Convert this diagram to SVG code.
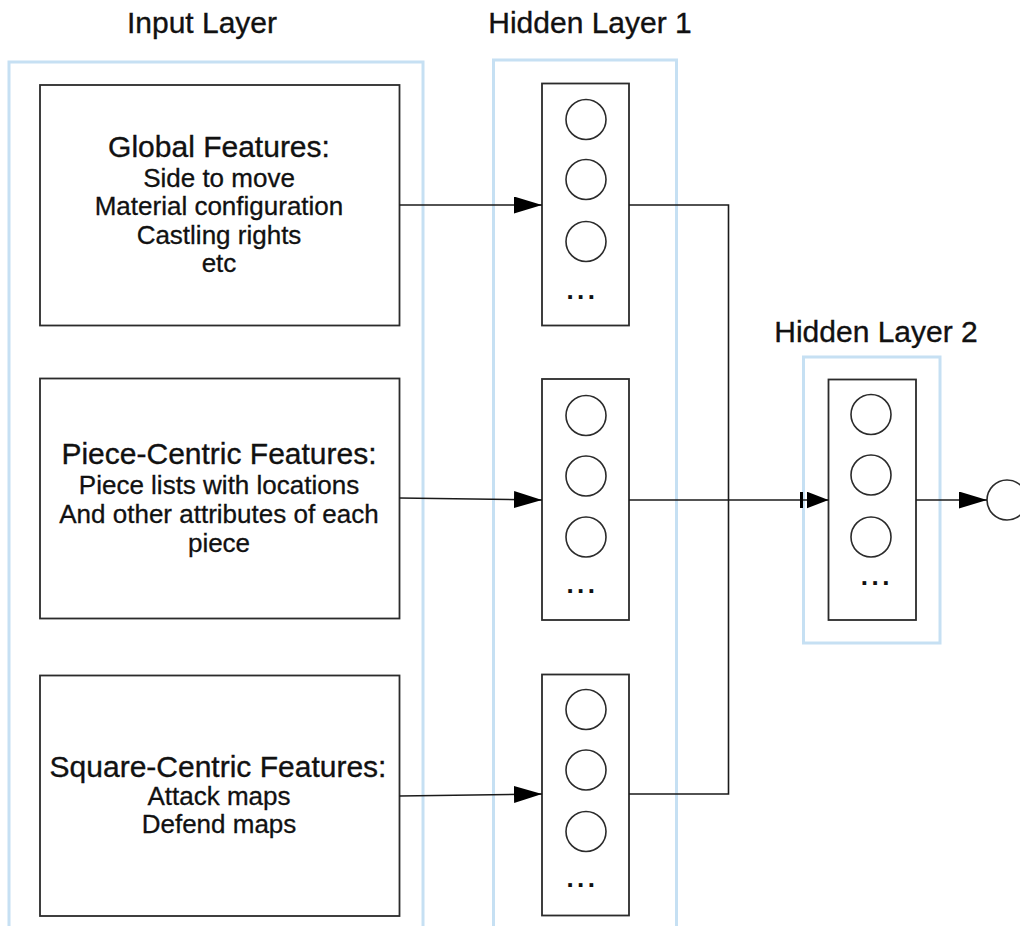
<svg xmlns="http://www.w3.org/2000/svg" width="1020" height="926" viewBox="0 0 1020 926">
<style>
.layer{fill:none;stroke:#c6e0f3;stroke-width:3}
.box{fill:#fff;stroke:#2b2b2b;stroke-width:1.8}
.neuron{fill:#fff;stroke:#2b2b2b;stroke-width:1.6}
.head{font-family:"Liberation Sans",Arial,sans-serif;font-size:30px;fill:#111;stroke:#111;stroke-width:0.35;text-anchor:middle}
.title{font-family:"Liberation Sans",Arial,sans-serif;font-size:30px;fill:#111;stroke:#111;stroke-width:0.35;text-anchor:middle}
.sub{font-family:"Liberation Sans",Arial,sans-serif;font-size:26px;fill:#111;stroke:#111;stroke-width:0.3;text-anchor:middle}
.dots{font-family:"Liberation Sans",Arial,sans-serif;font-size:26px;font-weight:bold;fill:#111;letter-spacing:3.5px}
.conn{fill:none;stroke:#1a1a1a;stroke-width:1.6}
</style>
<defs>
<marker id="arr" markerUnits="userSpaceOnUse" markerWidth="30" markerHeight="20" refX="28" refY="8.5" orient="auto">
<path d="M0,0 L28,8.5 L0,17 z" fill="#000"/>
</marker>
<marker id="arrS" markerUnits="userSpaceOnUse" markerWidth="24" markerHeight="20" refX="22" refY="8.5" orient="auto">
<path d="M0,0 L22,8.5 L0,17 z" fill="#000"/>
</marker>
</defs>
<rect width="1020" height="926" fill="#fff"/>

<g id="input-layer">
<rect class="layer" x="9" y="62" width="414" height="900"/>
<text class="head" x="202" y="33">Input Layer</text>
</g>
<g id="hidden-layer-1">
<rect class="layer" x="493.5" y="60" width="183" height="900"/>
<text class="head" x="590" y="33">Hidden Layer 1</text>
</g>
<g id="hidden-layer-2">
<rect class="layer" x="803.5" y="357" width="136.5" height="286"/>
<text class="head" x="876" y="342">Hidden Layer 2</text>
</g>

<g id="global-features">
<rect class="box" x="40" y="85" width="359.5" height="240.5"/>
<text class="title" x="219" y="157">Global Features:</text>
<text class="sub" x="219" y="187">Side to move</text>
<text class="sub" x="219" y="215">Material configuration</text>
<text class="sub" x="219" y="243.5">Castling rights</text>
<text class="sub" x="219" y="272">etc</text>
</g>
<g id="piece-centric-features">
<rect class="box" x="40" y="378.5" width="359.5" height="240"/>
<text class="title" x="219" y="464">Piece-Centric Features:</text>
<text class="sub" x="219" y="494">Piece lists with locations</text>
<text class="sub" x="219" y="522.5">And other attributes of each</text>
<text class="sub" x="219" y="551.5">piece</text>
</g>
<g id="square-centric-features">
<rect class="box" x="40" y="675.5" width="359.5" height="240.5"/>
<text class="title" x="218" y="777">Square-Centric Features:</text>
<text class="sub" x="219" y="805">Attack maps</text>
<text class="sub" x="219" y="833">Defend maps</text>
</g>

<g id="h1-block-1">
<rect class="box" x="542" y="83.5" width="87" height="242"/>
<circle class="neuron" cx="586" cy="119.5" r="20"/>
<circle class="neuron" cx="586" cy="179.5" r="20"/>
<circle class="neuron" cx="586" cy="241.5" r="20"/>
<text class="dots" x="566.4" y="299">...</text>
</g>
<g id="h1-block-2">
<rect class="box" x="542" y="379" width="87" height="241"/>
<circle class="neuron" cx="586" cy="415.5" r="20"/>
<circle class="neuron" cx="586" cy="476" r="20"/>
<circle class="neuron" cx="586" cy="537" r="20"/>
<text class="dots" x="566.4" y="593">...</text>
</g>
<g id="h1-block-3">
<rect class="box" x="542" y="674.5" width="87" height="241"/>
<circle class="neuron" cx="586" cy="709.5" r="20"/>
<circle class="neuron" cx="586" cy="770" r="20"/>
<circle class="neuron" cx="586" cy="831.5" r="20"/>
<text class="dots" x="566.4" y="887">...</text>
</g>
<g id="h2-block">
<rect class="box" x="828.5" y="379.5" width="87.5" height="240.5"/>
<circle class="neuron" cx="871" cy="414.5" r="20"/>
<circle class="neuron" cx="871" cy="475" r="20"/>
<circle class="neuron" cx="871" cy="537" r="20"/>
<text class="dots" x="860.7" y="585">...</text>
</g>
<g id="output-node">
<circle class="neuron" cx="1007" cy="500" r="20"/>
</g>

<g id="connectors">
<line class="conn" x1="399.5" y1="205" x2="542" y2="205" marker-end="url(#arr)"/>
<line class="conn" x1="399.5" y1="498" x2="542" y2="500" marker-end="url(#arr)"/>
<line class="conn" x1="399.5" y1="796" x2="542" y2="794" marker-end="url(#arr)"/>
<path class="conn" d="M629,205 H728.5 V500"/>
<path class="conn" d="M629,794 H728.5 V500"/>
<line class="conn" x1="629" y1="500" x2="828.5" y2="500" marker-end="url(#arrS)"/>
<line x1="801.5" y1="492" x2="801.5" y2="508" stroke="#000" stroke-width="3"/>
<line class="conn" x1="916" y1="500" x2="987" y2="500" marker-end="url(#arr)"/>
</g>
</svg>
